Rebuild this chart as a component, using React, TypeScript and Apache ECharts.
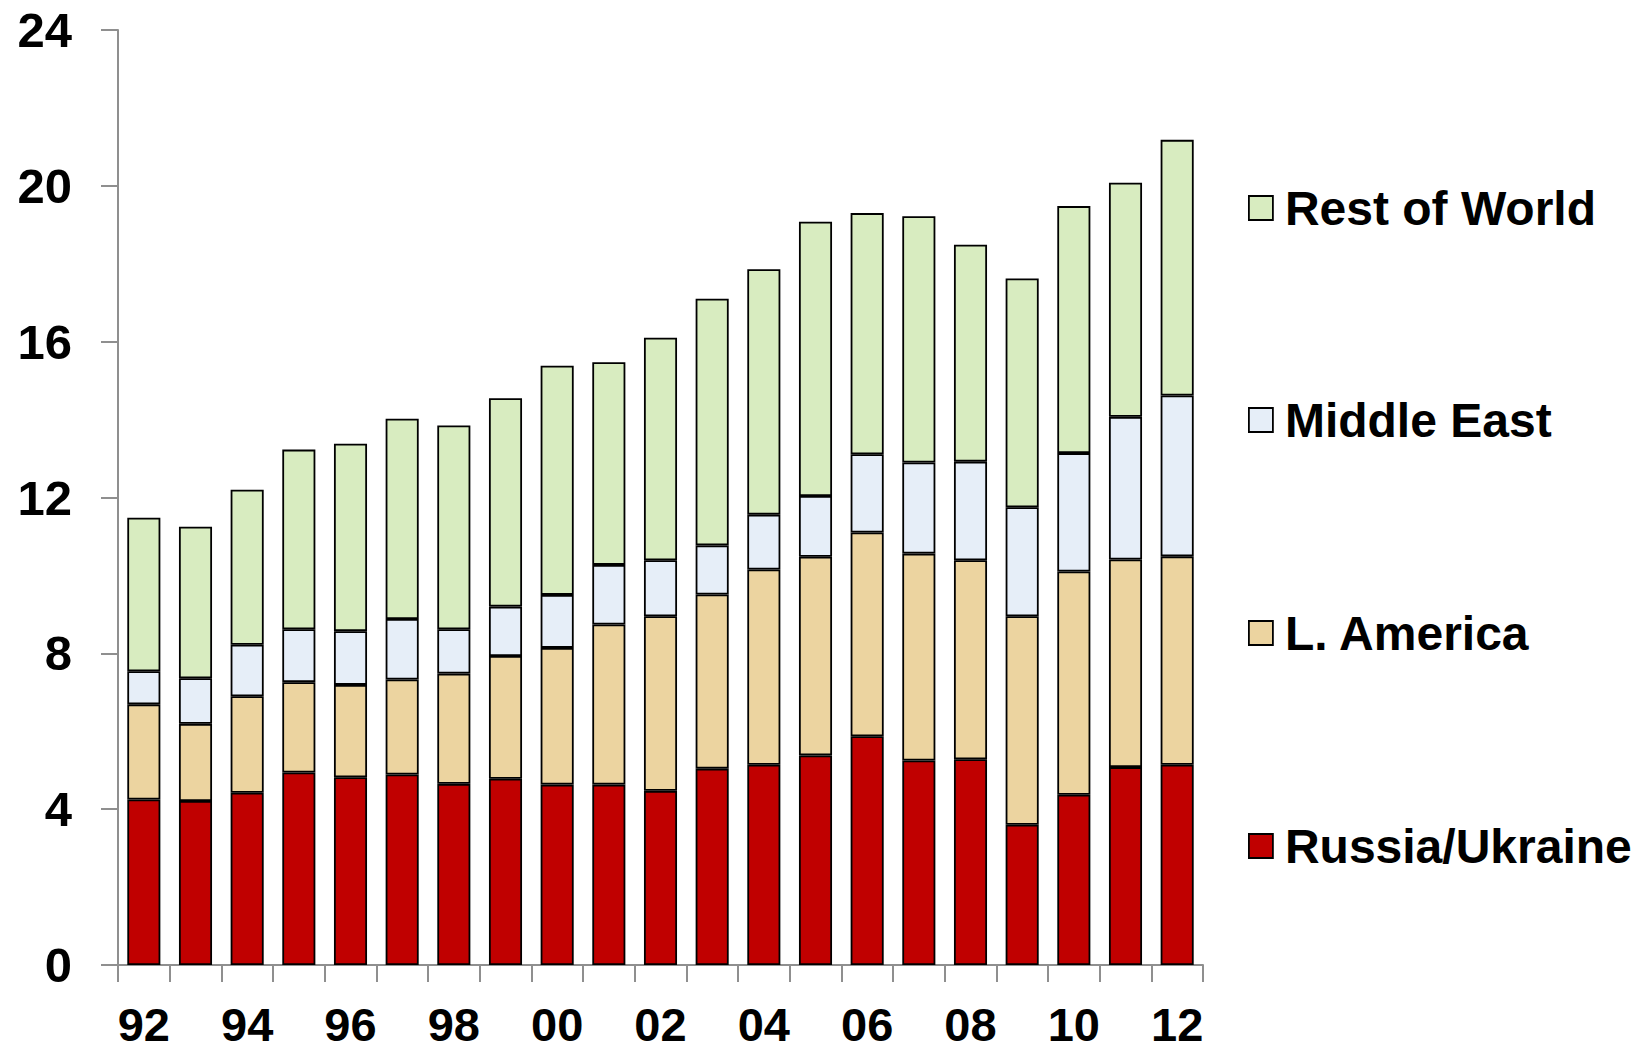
import React, { useEffect, useRef } from "react";
import * as echarts from "echarts";

// Years shown as two-digit labels, 1992 through 2012
const years = [
  "92", "93", "94", "95", "96", "97", "98", "99", "00", "01", "02",
  "03", "04", "05", "06", "07", "08", "09", "10", "11", "12",
];

// Stacked components (bottom to top)
const russiaUkraine = [
  4.25, 4.21, 4.42, 4.94, 4.82, 4.89, 4.65, 4.78, 4.63, 4.63, 4.47,
  5.04, 5.14, 5.38, 5.87, 5.25, 5.28, 3.6, 4.37, 5.08, 5.14,
];
const lAmerica = [
  2.44, 1.98, 2.48, 2.32, 2.37, 2.44, 2.83, 3.15, 3.51, 4.11, 4.48,
  4.47, 5.01, 5.1, 5.23, 5.31, 5.11, 5.35, 5.73, 5.33, 5.35,
];
const middleEast = [
  0.85, 1.17, 1.32, 1.36, 1.38, 1.55, 1.14, 1.27, 1.36, 1.53, 1.44,
  1.26, 1.41, 1.56, 2.01, 2.34, 2.53, 2.8, 3.04, 3.66, 4.13,
];
const restOfWorld = [
  3.94, 3.89, 3.98, 4.61, 4.81, 5.14, 5.23, 5.35, 5.88, 5.2, 5.71,
  6.33, 6.3, 7.04, 6.19, 6.32, 5.57, 5.87, 6.34, 6.01, 6.56,
];

const yTicks = { min: 0, max: 24, interval: 4 };

const seriesDefs = [
  { name: "Russia/Ukraine", data: russiaUkraine, color: "#C00000" },
  { name: "L. America", data: lAmerica, color: "#ECD4A0" },
  { name: "Middle East", data: middleEast, color: "#E6EEF8" },
  { name: "Rest of World", data: restOfWorld, color: "#D8ECC0" },
];

// Legend rows, top to bottom, with the vertical centre of each row
const legendRows = [
  { name: "Rest of World", center: 208 },
  { name: "Middle East", center: 420 },
  { name: "L. America", center: 633 },
  { name: "Russia/Ukraine", center: 846 },
];

const FONT = "'Liberation Sans', Arial, Helvetica, sans-serif";
const AXIS_GRAY = "#8f8f8f";

export default function App() {
  const ref = useRef<HTMLDivElement>(null);

  useEffect(() => {
    if (!ref.current) return;
    const chart = echarts.init(ref.current, undefined, { renderer: "svg" });

    const legendFont = 48;
    const option: echarts.EChartsOption = {
      animation: false,
      backgroundColor: "#ffffff",
      grid: {
        left: 118,
        right: 441,
        top: 30,
        bottom: 86,
        containLabel: false,
        outerBoundsMode: "none",
      } as any,
      legend: legendRows.map((row) => ({
        data: [row.name],
        orient: "vertical",
        left: 1248,
        top: row.center - legendFont / 2,
        padding: 0,
        icon: "rect",
        itemWidth: 24,
        itemHeight: 24,
        selectedMode: false,
        itemStyle: { borderColor: "#000", borderWidth: 1.8 },
        textStyle: {
          fontFamily: FONT,
          fontSize: legendFont,
          fontWeight: "bold",
          color: "#000",
          padding: [0, 0, 0, 7],
        },
      })),
      xAxis: {
        type: "category",
        data: years,
        boundaryGap: true,
        axisLine: { show: true, lineStyle: { color: AXIS_GRAY, width: 2 } },
        axisTick: {
          show: true,
          interval: 0,
          alignWithLabel: false,
          length: 17,
          lineStyle: { color: AXIS_GRAY, width: 2 },
        },
        axisLabel: {
          interval: 1,
          margin: 36,
          fontFamily: FONT,
          fontSize: 47,
          fontWeight: "bold",
          color: "#000",
        },
        splitLine: { show: false },
      },
      yAxis: {
        type: "value",
        min: yTicks.min,
        max: yTicks.max,
        interval: yTicks.interval,
        axisLine: { show: true, lineStyle: { color: AXIS_GRAY, width: 2 } },
        axisTick: {
          show: true,
          length: 17,
          lineStyle: { color: AXIS_GRAY, width: 2 },
        },
        axisLabel: {
          margin: 46,
          fontFamily: FONT,
          fontSize: 49,
          fontWeight: "bold",
          color: "#000",
        },
        splitLine: { show: false },
      },
      series: seriesDefs.map((s) => ({
        name: s.name,
        type: "bar",
        stack: "total",
        data: s.data,
        barWidth: "64%",
        itemStyle: { color: s.color, borderColor: "#000", borderWidth: 1.8 },
        emphasis: { disabled: true },
      })),
    };

    chart.setOption(option);
    return () => chart.dispose();
  }, []);

  return (
    <div
      ref={ref}
      style={{ position: "fixed", left: 0, top: 0, width: 1644, height: 1051 }}
    />
  );
}
